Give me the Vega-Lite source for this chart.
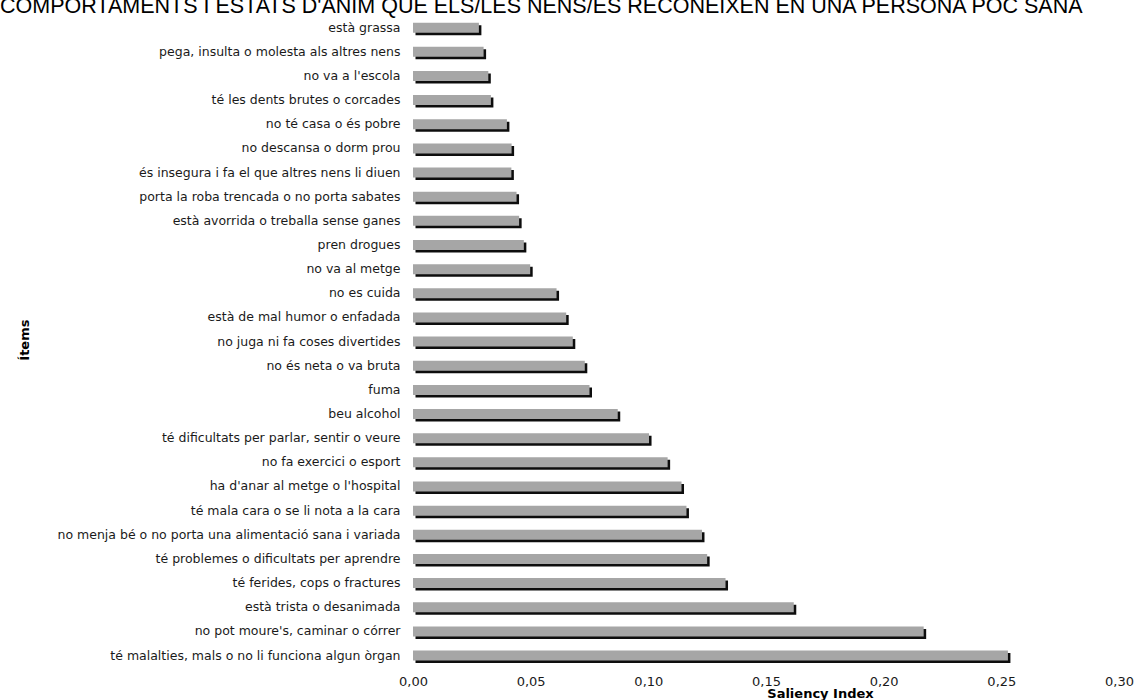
{
  "$schema": "https://vega.github.io/schema/vega-lite/v6.json",
  "autosize": "none",
  "width": 706,
  "height": 652,
  "padding": {"left": 413, "top": 15.6, "right": 16, "bottom": 32.4},
  "background": "white",
  "config": {"view": {"stroke": null}},
  "title": {
    "text": "COMPORTAMENTS I ESTATS D'ÀNIM QUE ELS/LES NENS/ES RECONEIXEN EN UNA PERSONA POC SANA",
    "anchor": "start",
    "frame": "group",
    "dx": -413,
    "dy": 19,
    "offset": 0,
    "baseline": "alphabetic",
    "font": "Liberation Sans",
    "fontSize": 21.5,
    "fontWeight": "normal",
    "color": "#000000"
  },
  "data": {
    "values": [
      {"item": "està grassa", "saliency": 0.0280},
      {"item": "pega, insulta o molesta als altres nens", "saliency": 0.0300},
      {"item": "no va a l'escola", "saliency": 0.0320},
      {"item": "té les dents brutes o corcades", "saliency": 0.0331},
      {"item": "no té casa o és pobre", "saliency": 0.0399},
      {"item": "no descansa o dorm prou", "saliency": 0.0419},
      {"item": "és insegura i fa el que altres nens li diuen", "saliency": 0.0418},
      {"item": "porta la roba trencada o no porta sabates", "saliency": 0.0440},
      {"item": "està avorrida o treballa sense ganes", "saliency": 0.0451},
      {"item": "pren drogues", "saliency": 0.0471},
      {"item": "no va al metge", "saliency": 0.0498},
      {"item": "no es cuida", "saliency": 0.0610},
      {"item": "està de mal humor o enfadada ", "saliency": 0.0651},
      {"item": "no juga ni fa coses divertides", "saliency": 0.0679},
      {"item": "no és neta o va bruta", "saliency": 0.0730},
      {"item": "fuma", "saliency": 0.0750},
      {"item": "beu alcohol", "saliency": 0.0870},
      {"item": "té dificultats per parlar, sentir o veure", "saliency": 0.1003},
      {"item": "no fa exercici o esport", "saliency": 0.1082},
      {"item": "ha d'anar al metge o l'hospital ", "saliency": 0.1141},
      {"item": "té mala cara o se li nota a la cara", "saliency": 0.1162},
      {"item": "no menja bé o no porta una alimentació sana i variada", "saliency": 0.1228},
      {"item": "té problemes o dificultats per aprendre", "saliency": 0.1250},
      {"item": "té ferides, cops o fractures", "saliency": 0.1328},
      {"item": "està trista o desanimada", "saliency": 0.1618},
      {"item": "no pot moure's, caminar o córrer ", "saliency": 0.2170},
      {"item": "té malalties, mals o no li funciona algun òrgan", "saliency": 0.2528}
    ]
  },
  "encoding": {
    "y": {
      "field": "item",
      "type": "nominal",
      "sort": null,
      "scale": {"paddingInner": 0, "paddingOuter": 0},
      "axis": {
        "title": "Ítems",
        "titleFont": "DejaVu Sans",
        "titleFontSize": 13,
        "titleFontWeight": "bold",
        "titleColor": "#000000",
        "titleAngle": -90,
        "titleX": -389,
        "titleY": 324,
        "titleAlign": "center",
        "titleBaseline": "middle",
        "labelFont": "DejaVu Sans",
        "labelFontSize": 12.5,
        "labelColor": "#1a1a1a",
        "labelPadding": 13,
        "labelLimit": 400,
        "ticks": false,
        "domain": false,
        "grid": false
      }
    },
    "x": {
      "field": "saliency",
      "type": "quantitative",
      "scale": {"domain": [0, 0.3], "nice": false},
      "axis": {
        "title": "Saliency Index",
        "titleFont": "DejaVu Sans",
        "titleFontSize": 13,
        "titleFontWeight": "bold",
        "titleColor": "#000000",
        "titleX": 407,
        "titleY": 20,
        "titleAlign": "center",
        "titleBaseline": "top",
        "values": [0, 0.05, 0.1, 0.15, 0.2, 0.25, 0.3],
        "labelExpr": "replace(format(datum.value, '.2f'), '.', ',')",
        "labelFont": "DejaVu Sans",
        "labelFontSize": 13,
        "labelColor": "#1a1a1a",
        "labelPadding": 8,
        "labelFlush": false,
        "labelOverlap": false,
        "ticks": false,
        "domain": false,
        "grid": false
      }
    }
  },
  "layer": [
    {
      "mark": {"type": "bar", "color": "#000000", "size": 10, "xOffset": 2.5, "yOffset": 2.5, "opacity": 0.95}
    },
    {
      "mark": {"type": "bar", "color": "#a6a6a6", "size": 10}
    }
  ]
}
